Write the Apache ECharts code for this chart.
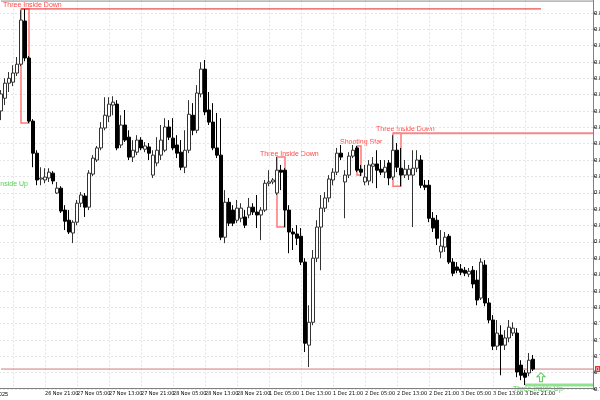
<!DOCTYPE html>
<html><head><meta charset="utf-8">
<script src="https://cdn.jsdelivr.net/npm/echarts@6/dist/echarts.min.js"></script>
<style>html,body{margin:0;padding:0;background:#fff}#c{width:600px;height:400px}</style>
</head><body><div id="c"></div>
<script>
// Hourly bars, 26 Nov 10:00 .. 3 Dec 23:00
const days = ['26 Nov','27 Nov','28 Nov','1 Dec','2 Dec','3 Dec','4 Dec'];
const firstHour = 10;
const futureBars = 15;

const opens = [0.80600,0.80639,0.80685,0.80688,0.80716,0.80743,0.80875,0.80762,0.80569,0.80471,
0.80392,0.80389,0.80395,0.80410,0.80349,0.80364,0.80297,0.80266,0.80227,0.80260,
0.80318,0.80340,0.80306,0.80407,0.80450,0.80487,0.80548,0.80584,0.80618,0.80621,
0.80496,0.80557,0.80520,0.80459,0.80474,0.80511,0.80483,0.80490,0.80404,0.80441,
0.80465,0.80480,0.80551,0.80517,0.80496,0.80474,0.80428,0.80480,0.80587,0.80541,
0.80652,0.80728,0.80603,0.80566,0.80487,0.80465,0.80214,0.80321,0.80297,0.80266,
0.80272,0.80276,0.80282,0.80306,0.80291,0.80282,0.80297,0.80379,0.80383,0.80349,
0.80419,0.80419,0.80297,0.80230,0.80224,0.80217,0.80138,0.79884,0.79954,0.80150,
0.80245,0.80303,0.80334,0.80389,0.80413,0.80471,0.80383,0.80404,0.80462,0.80487,
0.80422,0.80383,0.80386,0.80431,0.80438,0.80422,0.80413,0.80441,0.80398,0.80480,
0.80425,0.80404,0.80404,0.80404,0.80425,0.80450,0.80373,0.80373,0.80272,0.80266,
0.80169,0.80184,0.80217,0.80138,0.80123,0.80117,0.80113,0.80101,0.80113,0.80083,
0.80028,0.80129,0.80013,0.79961,0.79881,0.79915,0.79884,0.79906,0.79921,0.79921,
0.79823,0.79799,0.79799,0.79841];
const closes = [0.80652,0.80685,0.80700,0.80716,0.80743,0.80878,0.80762,0.80569,0.80471,0.80389,
0.80395,0.80398,0.80413,0.80386,0.80364,0.80294,0.80263,0.80230,0.80260,0.80318,
0.80343,0.80306,0.80410,0.80456,0.80487,0.80548,0.80587,0.80621,0.80627,0.80487,
0.80557,0.80511,0.80459,0.80480,0.80511,0.80487,0.80493,0.80471,0.80465,0.80480,
0.80511,0.80551,0.80520,0.80487,0.80471,0.80428,0.80480,0.80590,0.80541,0.80655,
0.80728,0.80597,0.80566,0.80487,0.80465,0.80214,0.80321,0.80257,0.80257,0.80303,
0.80303,0.80251,0.80306,0.80291,0.80282,0.80297,0.80379,0.80383,0.80389,0.80419,
0.80413,0.80297,0.80230,0.80224,0.80211,0.80138,0.79890,0.79954,0.80150,0.80245,
0.80303,0.80334,0.80392,0.80413,0.80471,0.80459,0.80404,0.80462,0.80480,0.80419,
0.80413,0.80398,0.80435,0.80438,0.80419,0.80413,0.80428,0.80395,0.80480,0.80428,
0.80404,0.80422,0.80422,0.80425,0.80450,0.80373,0.80367,0.80272,0.80242,0.80211,
0.80187,0.80214,0.80138,0.80104,0.80113,0.80107,0.80104,0.80110,0.80071,0.80022,
0.80138,0.80013,0.79961,0.79881,0.79921,0.79884,0.79906,0.79939,0.79936,0.79802,
0.79792,0.79786,0.79838,0.79811];
const highs = [0.80664,0.80700,0.80719,0.80740,0.80765,0.80908,0.80911,0.80768,0.80575,0.80480,
0.80428,0.80425,0.80425,0.80416,0.80383,0.80370,0.80312,0.80297,0.80266,0.80328,
0.80352,0.80349,0.80419,0.80465,0.80493,0.80566,0.80642,0.80642,0.80645,0.80633,
0.80587,0.80603,0.80541,0.80511,0.80526,0.80520,0.80505,0.80502,0.80480,0.80520,
0.80557,0.80578,0.80572,0.80578,0.80526,0.80511,0.80541,0.80633,0.80624,0.80679,
0.80749,0.80756,0.80658,0.80624,0.80594,0.80578,0.80358,0.80334,0.80312,0.80328,
0.80318,0.80297,0.80334,0.80318,0.80343,0.80306,0.80389,0.80419,0.80395,0.80459,
0.80435,0.80425,0.80312,0.80242,0.80251,0.80242,0.80150,0.80006,0.80175,0.80266,
0.80343,0.80352,0.80404,0.80425,0.80487,0.80496,0.80419,0.80474,0.80496,0.80493,
0.80435,0.80435,0.80450,0.80459,0.80480,0.80450,0.80450,0.80450,0.80526,0.80502,
0.80487,0.80450,0.80435,0.80480,0.80480,0.80465,0.80389,0.80389,0.80291,0.80282,
0.80236,0.80230,0.80224,0.80150,0.80138,0.80132,0.80123,0.80120,0.80126,0.80113,
0.80150,0.80144,0.80028,0.79976,0.79961,0.79945,0.79930,0.79961,0.79954,0.79936,
0.79838,0.79808,0.79860,0.79854];
const lows = [0.80572,0.80618,0.80658,0.80676,0.80707,0.80737,0.80752,0.80563,0.80428,0.80373,
0.80373,0.80379,0.80383,0.80376,0.80346,0.80288,0.80236,0.80224,0.80196,0.80251,
0.80306,0.80276,0.80297,0.80401,0.80444,0.80480,0.80541,0.80566,0.80587,0.80480,
0.80487,0.80505,0.80450,0.80444,0.80465,0.80480,0.80474,0.80450,0.80395,0.80431,
0.80450,0.80474,0.80511,0.80480,0.80456,0.80419,0.80410,0.80471,0.80526,0.80532,
0.80642,0.80587,0.80557,0.80480,0.80456,0.80205,0.80196,0.80248,0.80248,0.80257,
0.80260,0.80242,0.80272,0.80282,0.80242,0.80205,0.80291,0.80370,0.80376,0.80343,
0.80358,0.80245,0.80165,0.80175,0.80190,0.80129,0.79863,0.79817,0.79945,0.80138,
0.80113,0.80291,0.80321,0.80373,0.80404,0.80450,0.80272,0.80395,0.80456,0.80413,
0.80401,0.80373,0.80373,0.80379,0.80364,0.80404,0.80395,0.80373,0.80389,0.80413,
0.80370,0.80395,0.80389,0.80245,0.80413,0.80364,0.80358,0.80260,0.80230,0.80190,
0.80150,0.80169,0.80132,0.80095,0.80104,0.80098,0.80095,0.80092,0.80058,0.80006,
0.80022,0.80003,0.79951,0.79869,0.79869,0.79792,0.79869,0.79893,0.79912,0.79786,
0.79777,0.79762,0.79789,0.79805];

// pattern annotations: [startBar, endBar, high, low]
const patternBoxes = [[5,7,0.80912,0.80563],[69,71,0.80459,0.80245],[89,90,0.80493,0.80404],[98,100,0.80532,0.80370]];
const patternTexts = ['Three Inside Down','Three Inside Down','Shooting Star','Three Inside Down','Three Inside Up','Three Inside Up'];
const resistTop = {from:5, to:135, price:0.80912};
const resistRight = {from:98, to:148, price:0.80532};
const supportGreen = {from:131, to:148, price:0.79762};
const arrowUp = {bar:135, price:0.79786};
const bidPrice = 0.79811;
const frameTop = {from:0, to:148, price:0.80936};

const cats = [];
const pad = h => (h < 10 ? '0' : '') + h;
days.forEach((d, k) => {
  for (let h = (k === 0 ? firstHour : 0); h < 24; h++) cats.push(d + ' ' + pad(h) + ':00');
});
const nBars = opens.length;
const categories = cats.slice(0, nBars + futureBars);
const candles = opens.map((o, i) => [o, closes[i], lows[i], highs[i]]);
const showIdx = (idx) => idx >= 3 && (idx - 3) % 8 === 0 && idx < nBars;

const levelLine = (lv, color, width, extra) => Object.assign({
  type: 'line', xAxisIndex: 0, yAxisIndex: 0, silent: true, showSymbol: false, symbol: 'none',
  data: [[lv.from, lv.price], [lv.to, lv.price]],
  lineStyle: {color: color, width: width, type: 'solid', opacity: 1}, itemStyle: {color: color},
  emphasis: {disabled: true}, z: 3
}, extra || {});

const chart = echarts.init(document.getElementById('c'), null, {renderer: 'canvas'});
const red = '#ff4a4a', green = '#55cc55';
chart.setOption({
  animation: false,
  backgroundColor: '#ffffff',
  grid: {left: -1, top: -3.5, width: 596, height: 392.5, containLabel: false, outerBoundsMode: 'none'},
  xAxis: {
    type: 'category', data: categories, boundaryGap: true, offset: -1,
    axisLine: {onZero: false, lineStyle: {color: '#808080', width: 1}},
    axisTick: {interval: showIdx, alignWithLabel: true, length: 3, lineStyle: {color: '#808080'}},
    axisLabel: {interval: showIdx, align: 'left', margin: 3, fontSize: 5.5, color: '#000', hideOverlap: false,
      fontFamily: '"Liberation Sans Narrow","DejaVu Sans Condensed","Liberation Sans",sans-serif'},
    splitLine: {show: true, interval: showIdx, alignWithLabel: true, lineStyle: {color: '#e4e4e4', type: [2, 2]}}
  },
  yAxis: {
    type: 'value', position: 'right', offset: -2, min: 0.7975, max: 0.8095, interval: 0.0005,
    axisLine: {show: true, onZero: false, lineStyle: {color: '#808080'}},
    axisTick: {show: true, length: 3, lineStyle: {color: '#808080'}},
    axisLabel: {fontSize: 6, margin: 1, color: '#000', formatter: v => v.toFixed(4), fontFamily: 'Liberation Sans', hideOverlap: false},
    splitLine: {show: true, lineStyle: {color: '#e4e4e4', type: [2, 2]}}
  },
  series: [
    levelLine(frameTop, '#8c8c8c', 1),
    levelLine({from: 0, to: 148, price: bidPrice}, '#d07a7a', 1, {
      endLabel: {show: true, distance: 2, formatter: () => bidPrice.toFixed(5),
        backgroundColor: '#e03030', color: '#fff', fontSize: 6, padding: [0, 1]}}),
    levelLine(resistTop, '#e52222', 1),
    levelLine(resistRight, '#f28a8a', 2),
    levelLine(supportGreen, '#8fe38f', 3),
    {
    type: 'candlestick', data: candles, barWidth: 3, xAxisIndex: 0, z: 4,
    itemStyle: {color: '#ffffff', color0: '#000000', borderColor: '#333333', borderColor0: '#000000', borderWidth: 1},
    markArea: {silent: true, itemStyle: {color: 'rgba(0,0,0,0)', borderColor: '#ff7777', borderWidth: 1.5},
      data: patternBoxes.map(b => [{coord: [b[0], b[2]]}, {coord: [b[1], b[3]]}])},
    markPoint: {silent: true, label: {show: false},
      data: [{coord: [arrowUp.bar, arrowUp.price], symbol: 'path://M4,0 L8,4 L5.5,4 L5.5,9 L2.5,9 L2.5,4 L0,4 Z', symbolSize: [8, 9],
        itemStyle: {color: 'rgba(0,0,0,0)', borderColor: green, borderWidth: 1}}]}
  }],
  graphic: [
    {type: 'text', x: 3, y: 5, style: {text: patternTexts[0], fill: red, fontSize: 7, fontFamily: 'Liberation Sans', verticalAlign: 'middle'}},
    {type: 'text', x: 260, y: 154, style: {text: patternTexts[1], fill: red, fontSize: 7, fontFamily: 'Liberation Sans', verticalAlign: 'middle'}},
    {type: 'text', x: 340, y: 142.5, style: {text: patternTexts[2], fill: red, fontSize: 7, fontFamily: 'Liberation Sans', verticalAlign: 'middle'}},
    {type: 'text', x: 376, y: 129.5, style: {text: patternTexts[3], fill: red, fontSize: 7, fontFamily: 'Liberation Sans', verticalAlign: 'middle'}},
    {type: 'text', x: 28, y: 184, style: {text: patternTexts[4], fill: green, fontSize: 7, fontFamily: 'Liberation Sans', align: 'right', verticalAlign: 'middle'}},
    {type: 'text', x: 513, y: 389, style: {text: patternTexts[5], fill: green, fontSize: 7, fontFamily: 'Liberation Sans', verticalAlign: 'middle'}},
    {type: 'text', x: 8, y: 394, style: {text: '26 Nov 2025', fill: '#000', fontSize: 5.5, fontFamily: '"Liberation Sans Narrow","Liberation Sans"', align: 'right', verticalAlign: 'middle'}}
  ]
});
</script></body></html>
